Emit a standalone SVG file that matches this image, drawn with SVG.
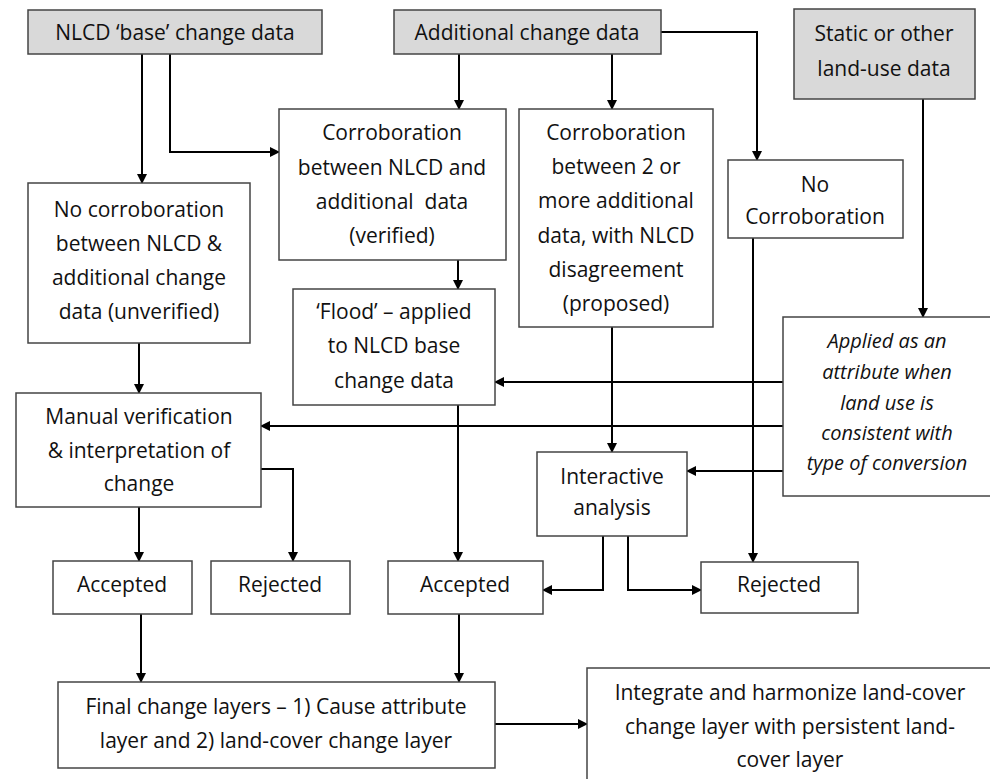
<svg xmlns="http://www.w3.org/2000/svg" width="990" height="779" viewBox="0 0 990 779">
<defs>
<marker id="ah" markerWidth="10" markerHeight="10" refX="9" refY="5" orient="auto" markerUnits="userSpaceOnUse">
<path d="M0,0 L10,5 L0,10 z" fill="#000"/>
</marker>
<style>
.box{fill:#fff;stroke:#444;stroke-width:1.5}
.src{fill:#d9d9d9;stroke:#444;stroke-width:1.5}
.t{font-family:"Open Sans","Liberation Sans",sans-serif;font-size:21px;fill:#111;text-anchor:middle}
.it{font-style:italic;font-size:20px}
.c{fill:none;stroke:#000;stroke-width:2;marker-end:url(#ah)}
.l{fill:none;stroke:#000;stroke-width:2}
</style>
</defs>
<rect width="990" height="779" fill="#fff"/>
<g id="connectors">
<path class="c" d="M142,54 V183"/>
<path class="c" d="M170,54 V152 H279"/>
<path class="c" d="M459,54 V109"/>
<path class="c" d="M612,54 V109"/>
<path class="c" d="M661,32 H757 V160"/>
<path class="c" d="M923,99 V317"/>
<path class="c" d="M139,343 V393"/>
<path class="c" d="M458,260 V289"/>
<path class="c" d="M783,382 H495"/>
<path class="c" d="M783,426 H261"/>
<path class="c" d="M783,471 H687"/>
<path class="c" d="M612,327 V452"/>
<path class="c" d="M753,238 V562"/>
<path class="c" d="M139,507 V561"/>
<path class="c" d="M261,469 H293 V561"/>
<path class="c" d="M458,405 V561"/>
<path class="c" d="M603,536 V590 H543"/>
<path class="c" d="M628,536 V590 H701"/>
<path class="c" d="M141,614 V682"/>
<path class="c" d="M459,614 V682"/>
<path class="c" d="M495,724 H587"/>
</g>
<g id="nlcd-base"><rect class="src" x="28" y="10" width="294" height="44"/><text class="t" x="175" y="40">NLCD ‘base’ change data</text></g>
<g id="additional"><rect class="src" x="394" y="10" width="267" height="44"/><text class="t" x="527" y="40">Additional change data</text></g>
<g id="static"><rect class="src" x="794" y="9" width="181" height="90"/><text class="t" x="884" y="41">Static or other</text><text class="t" x="884" y="76">land-use data</text></g>
<g id="corr-verified"><rect class="box" x="279" y="109" width="227" height="151"/>
<text class="t" x="392" y="140">Corroboration</text><text class="t" x="392" y="175">between NLCD and</text><text class="t" x="392" y="209">additional&#160; data</text><text class="t" x="392" y="243">(verified)</text></g>
<g id="corr-proposed"><rect class="box" x="519" y="109" width="194" height="218"/>
<text class="t" x="616" y="140">Corroboration</text><text class="t" x="616" y="174">between 2 or</text><text class="t" x="616" y="208">more additional</text><text class="t" x="616" y="243">data, with NLCD</text><text class="t" x="616" y="277">disagreement</text><text class="t" x="616" y="311">(proposed)</text></g>
<g id="no-corr"><rect class="box" x="728" y="160" width="175" height="78"/><text class="t" x="815" y="192">No</text><text class="t" x="815" y="224">Corroboration</text></g>
<g id="unverified"><rect class="box" x="28" y="183" width="222" height="160"/>
<text class="t" x="139" y="217">No corroboration</text><text class="t" x="139" y="251">between NLCD &amp;</text><text class="t" x="139" y="285">additional change</text><text class="t" x="139" y="319">data (unverified)</text></g>
<g id="flood"><rect class="box" x="293" y="289" width="202" height="116"/>
<text class="t" x="394" y="319">‘Flood’ – applied</text><text class="t" x="394" y="353">to NLCD base</text><text class="t" x="394" y="388">change data</text></g>
<g id="applied"><rect class="box" x="783" y="317" width="220" height="179"/>
<text class="t it" x="887" y="348">Applied as an</text><text class="t it" x="887" y="379">attribute when</text><text class="t it" x="887" y="410">land use is</text><text class="t it" x="887" y="440">consistent with</text><text class="t it" x="887" y="470">type of conversion</text></g>
<g id="manual"><rect class="box" x="16" y="393" width="245" height="114"/>
<text class="t" x="139" y="424">Manual verification</text><text class="t" x="139" y="458">&amp; interpretation of</text><text class="t" x="139" y="491">change</text></g>
<g id="interactive"><rect class="box" x="537" y="452" width="150" height="84"/>
<text class="t" x="612" y="484">Interactive</text><text class="t" x="612" y="515">analysis</text></g>
<g id="accepted-left"><rect class="box" x="53" y="561" width="139" height="53"/><text class="t" x="122" y="592">Accepted</text></g>
<g id="rejected-left"><rect class="box" x="211" y="561" width="139" height="53"/><text class="t" x="280" y="592">Rejected</text></g>
<g id="accepted-mid"><rect class="box" x="388" y="561" width="155" height="53"/><text class="t" x="465" y="592">Accepted</text></g>
<g id="rejected-right"><rect class="box" x="701" y="562" width="157" height="51"/><text class="t" x="779" y="592">Rejected</text></g>
<g id="final"><rect class="box" x="58" y="682" width="437" height="86"/>
<text class="t" x="276" y="714">Final change layers – 1) Cause attribute</text><text class="t" x="276" y="748">layer and 2) land-cover change layer</text></g>
<g id="integrate"><rect class="box" x="587" y="668" width="420" height="130"/>
<text class="t" x="790" y="700">Integrate and harmonize land-cover</text><text class="t" x="790" y="734">change layer with persistent land-</text><text class="t" x="790" y="767">cover layer</text></g>
</svg>
